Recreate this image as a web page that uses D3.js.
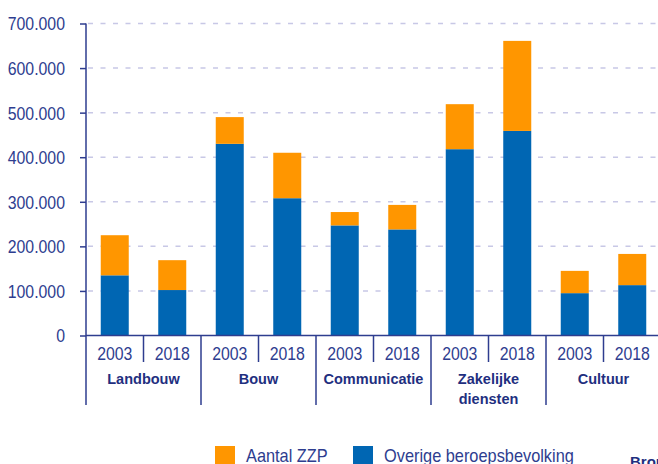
<!DOCTYPE html>
<html>
<head>
<meta charset="utf-8">
<script src="https://cdn.jsdelivr.net/npm/d3@7"></script>
<style>
  body { margin: 0; background: #fff; overflow: hidden; }
  svg { display: block; font-family: "Liberation Sans", Arial, sans-serif; }
</style>
</head>
<body>
<div id="chart"></div>
<script>
// sectoren en jaren
var categories = ["Landbouw", "Bouw", "Communicatie", "Zakelijke diensten", "Cultuur"];
var years = ["2003", "2018"];

// overige beroepsbevolking per sector (2003, 2018)
var overige2003 = [135000, 430000, 247000, 418000, 95000];
var overige2018 = [102000, 308000, 238000, 459000, 113000];

// aantal zzp per sector
var zzp2003 = [90000, 60000, 30000, 101000, 50000];
var zzp2018 = [67000, 102000, 55000, 202000, 70000];

var yTicks = [0, 100000, 200000, 300000, 400000, 500000, 600000, 700000];
var legendLabels = ["Aantal ZZP", "Overige beroepsbevolking"];

var width = 658, height = 464;
var c = { left: 86, right: 661, top: 23.5, bottom: 335.5 };
var colBlue = "#0066b3", colOrange = "#ff9600", axisCol = "#2e3d8f", labelCol = "#1f2f80";

//no narrow font available, so squeeze the text horizontally
function condense(sel, factor) {
    sel.each(function () {
        var w = this.getComputedTextLength();
        d3.select(this)
            .attr("textLength", w * factor)
            .attr("lengthAdjust", "spacingAndGlyphs");
    });
}

//building rows for the stack
var rows = [];
categories.forEach(function (cat, i) {
    rows.push({ key: cat + "|2003", cat: cat, year: "2003", overige: overige2003[i], zzp: zzp2003[i] });
    rows.push({ key: cat + "|2018", cat: cat, year: "2018", overige: overige2018[i], zzp: zzp2018[i] });
});

var series = d3.stack().keys(["overige", "zzp"])(rows);

var svg = d3.select("#chart").append("svg")
    .attr("width", width)
    .attr("height", height);

var x = d3.scaleBand()
    .domain(rows.map(function (d) { return d.key; }))
    .range([c.left, c.right])
    .paddingInner(0.513)
    .paddingOuter(0.2565);

var y = d3.scaleLinear()
    .domain([0, 700000])
    .range([c.bottom, c.top]);

var nl = d3.formatLocale({ decimal: ",", thousands: ".", grouping: [3], currency: ["€", ""] });
var fmt = nl.format(",");

//dashed grid lines
svg.append("g")
    .selectAll("line")
    .data(yTicks.filter(function (d) { return d > 0; }))
    .enter().append("line")
    .attr("x1", c.left + 2)
    .attr("x2", width)
    .attr("y1", function (d) { return y(d); })
    .attr("y2", function (d) { return y(d); })
    .attr("stroke", "#c8c8e6")
    .attr("stroke-width", 1.5)
    .attr("stroke-dasharray", "5,7.5");

//bars
var colors = { overige: colBlue, zzp: colOrange };
svg.append("g")
    .selectAll("g")
    .data(series)
    .enter().append("g")
    .attr("fill", function (s) { return colors[s.key]; })
    .selectAll("rect")
    .data(function (s) { return s; })
    .enter().append("rect")
    .attr("x", function (d) { return x(d.data.key); })
    .attr("width", x.bandwidth())
    .attr("y", function (d) { return y(d[1]); })
    .attr("height", function (d) { return y(d[0]) - y(d[1]); });

//y axis
var yAxis = svg.append("g")
    .attr("transform", "translate(" + c.left + ",0)")
    .call(d3.axisLeft(y).tickValues(yTicks).tickFormat(fmt).tickSize(6).tickPadding(15));
yAxis.select(".domain").remove();
yAxis.selectAll("line").attr("stroke", axisCol).attr("stroke-width", 1.5);
yAxis.selectAll("text")
    .attr("fill", axisCol)
    .style("font-family", "'Liberation Sans', Arial, sans-serif")
    .style("font-size", "18px")
    .attr("dy", "0.36em");
condense(yAxis.selectAll("text"), 0.88);

svg.append("line")
    .attr("x1", c.left).attr("x2", c.left)
    .attr("y1", c.top).attr("y2", 405)
    .attr("stroke", axisCol).attr("stroke-width", 1.5);

//x axis baseline
svg.append("line")
    .attr("x1", c.left).attr("x2", width)
    .attr("y1", c.bottom).attr("y2", c.bottom)
    .attr("stroke", axisCol).attr("stroke-width", 1.5);

var step = x.step();

//separators: short between years, long between sectors
svg.append("g")
    .selectAll("line")
    .data(rows)
    .enter().append("line")
    .attr("x1", function (d) { return x(d.key) - (step - x.bandwidth()) / 2 + step; })
    .attr("x2", function (d) { return x(d.key) - (step - x.bandwidth()) / 2 + step; })
    .attr("y1", c.bottom)
    .attr("y2", function (d) { return d.year == "2003" ? 362 : 405; })
    .attr("stroke", axisCol)
    .attr("stroke-width", 1.5);

//year labels
var yearLabels = svg.append("g")
    .selectAll("text")
    .data(rows)
    .enter().append("text")
    .attr("x", function (d) { return x(d.key) + x.bandwidth() / 2; })
    .attr("y", 360)
    .attr("text-anchor", "middle")
    .attr("fill", axisCol)
    .style("font-size", "18px")
    .text(function (d) { return d.year; });
condense(yearLabels, 0.88);

//sector labels
var catLabels = svg.append("g")
    .selectAll("text")
    .data(categories)
    .enter().append("text")
    .attr("x", function (d) { return x(d + "|2018") - (step - x.bandwidth()) / 2; })
    .attr("y", 384)
    .attr("text-anchor", "middle")
    .attr("fill", labelCol)
    .style("font-size", "14.5px")
    .style("font-weight", "bold");

catLabels.each(function (d) {
    var words = d.split(" ");
    var t = d3.select(this);
    words.forEach(function (w, i) {
        t.append("tspan")
            .attr("x", t.attr("x"))
            .attr("dy", i == 0 ? 0 : 20)
            .text(w);
    });
});

//legend
var legend = svg.append("g")
    .selectAll("g")
    .data(legendLabels)
    .enter().append("g")
    .attr("transform", function (d, i) { return "translate(" + (i == 0 ? 215 : 353) + ",446)"; });

legend.append("rect")
    .attr("width", 20)
    .attr("height", 20)
    .attr("fill", function (d, i) { return i == 0 ? colOrange : colBlue; });

var legendText = legend.append("text")
    .attr("x", 31)
    .attr("y", 16)
    .attr("fill", axisCol)
    .style("font-size", "19px")
    .text(function (d) { return d; });
condense(legendText, 0.86);

svg.append("text")
    .attr("x", 630)
    .attr("y", 467)
    .attr("fill", labelCol)
    .style("font-size", "15px")
    .style("font-weight", "bold")
    .text("Bron: CBS");
</script>
</body>
</html>
